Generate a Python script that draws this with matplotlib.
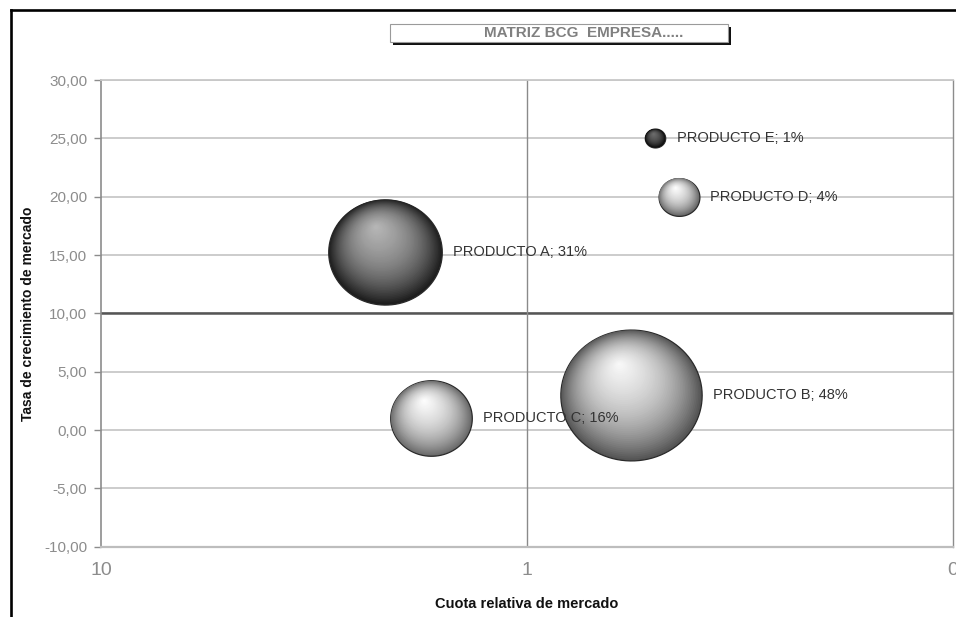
import numpy as np
import matplotlib
matplotlib.use("Agg")
import matplotlib.pyplot as plt
from matplotlib.path import Path
from matplotlib.markers import MarkerStyle
from matplotlib.transforms import offset_copy
from matplotlib.ticker import FuncFormatter, FixedLocator, NullLocator
from matplotlib.patches import Rectangle
from matplotlib.lines import Line2D
from matplotlib.colors import to_rgb

plt.rcParams['font.family'] = ['Liberation Sans', 'DejaVu Sans']

# --- data -------------------------------------------------------------
products = ["PRODUCTO A", "PRODUCTO B", "PRODUCTO C", "PRODUCTO D", "PRODUCTO E"]
cuota = [2.15, 0.57, 1.68, 0.44, 0.50]          # relative market share
crecimiento = [15.3, 3.0, 1.0, 20.0, 25.0]      # market growth rate
participacion = [31, 48, 16, 4, 1]              # share of sales (%)

x_ticks = [10, 1, 0.1]
y_ticks = [-10, -5, 0, 5, 10, 15, 20, 25, 30]

# sphere shading: (rim colour, highlight colour)
shades = {
    "PRODUCTO A": ("#1e1e1e", "#b8b8b8"),
    "PRODUCTO B": ("#555555", "#fafafa"),
    "PRODUCTO C": ("#6a6a6a", "#ffffff"),
    "PRODUCTO D": ("#6a6a6a", "#ffffff"),
    "PRODUCTO E": ("#0a0a0a", "#6e6e6e"),
}

# --- figure -----------------------------------------------------------
W, H, DPI = 956, 617, 100
fig = plt.figure(figsize=(W / DPI, H / DPI), dpi=DPI)
fig.patch.set_facecolor("white")

l, r, b, t = 101, 953, 546.7, 80
ax = fig.add_axes([l / W, 1 - b / H, (r - l) / W, (b - t) / H])
ax.set_xscale("log")
ax.set_xlim(10, 0.1)
ax.set_ylim(-10, 30)

ax.xaxis.set_major_locator(FixedLocator(x_ticks))
ax.xaxis.set_minor_locator(NullLocator())
ax.xaxis.set_major_formatter(FuncFormatter(lambda v, p: f"{v:.0f}"))
ax.yaxis.set_major_locator(FixedLocator(y_ticks))
ax.yaxis.set_major_formatter(FuncFormatter(lambda v, p: f"{v:.2f}".replace(".", ",")))

ax.tick_params(axis="x", length=0, pad=11, labelsize=14, labelcolor="#8c8c8c")
ax.tick_params(axis="y", length=5, width=1, color="#8c8c8c", pad=5,
               labelsize=11, labelcolor="#8c8c8c", direction="out")

ax.grid(axis="y", color="#c8c8c8", lw=1.3, zorder=0)
ax.set_axisbelow(True)
for side, col, lw in [("left", "#8c8c8c", 1.2), ("bottom", "#bdbdbd", 1.6),
                      ("right", "#8c8c8c", 1.0), ("top", "#c8c8c8", 1.3)]:
    ax.spines[side].set_color(col)
    ax.spines[side].set_linewidth(lw)

# quadrant dividers
ax.axhline(10, color="#555555", lw=1.8, zorder=1)
ax.axvline(1, color="#8a8a8a", lw=1.0, zorder=1)

# slightly wide ellipse marker
theta = np.linspace(0, 2 * np.pi, 100)
ell = Path(np.column_stack([1.08 * np.cos(theta), np.sin(theta)]), closed=True)
marker = MarkerStyle(ell)

PX2PT = 72 / DPI
size_k = 10.2  # horizontal radius in px per sqrt(%)
n_layers = 50

for name, xv, yv, pv in zip(products, cuota, crecimiento, participacion):
    rx_pt = size_k * np.sqrt(pv) * PX2PT
    ry_pt = rx_pt / 1.08
    rim, hi = (np.array(to_rgb(c)) for c in shades[name])
    hx, hy = -0.17 * rx_pt, 0.48 * ry_pt
    for k in range(n_layers):
        tt = k / n_layers
        f = 0.55 * (1 - (1 - tt) ** 3) + 0.45 * tt ** 1.2
        col = np.clip(rim + (hi - rim) * f, 0, 1)
        rad = rx_pt * (1 - tt)
        tr = offset_copy(ax.transData, fig=fig, x=hx * tt, y=hy * tt, units="points")
        kw = dict(edgecolor="#2a2a2a", linewidths=0.9) if k == 0 else dict(edgecolor="none")
        ax.scatter([xv], [yv], s=(2 * rad) ** 2, marker=marker, color=[col],
                   transform=tr, zorder=3, **kw)
    ax.annotate(f"{name}; {pv}%", (xv, yv), xytext=(rx_pt + 8, 0),
                textcoords="offset points", ha="left", va="center",
                fontsize=10.5, color="#333333", zorder=5)

ax.set_xlabel("Cuota relativa de mercado", fontsize=10.5, fontweight="bold",
              color="#111111")
ax.xaxis.set_label_coords(0.5, -0.123)
ax.xaxis.label.set_va("center")
ax.set_ylabel("Tasa de crecimiento de mercado", fontsize=10, fontweight="bold",
              color="#111111")
ax.yaxis.set_label_coords(-0.0857, 0.5)
ax.yaxis.label.set_va("center")

# title box with drop shadow
bx0, bx1, by0, by1 = 390, 728, 24, 42
sh = 3
fig.add_artist(Rectangle(((bx0 + sh) / W, 1 - (by1 + sh) / H), (bx1 - bx0) / W,
                         (by1 - by0) / H, transform=fig.transFigure,
                         facecolor="#111111", edgecolor="none", zorder=1))
fig.add_artist(Rectangle((bx0 / W, 1 - by1 / H), (bx1 - bx0) / W, (by1 - by0) / H,
                         transform=fig.transFigure, facecolor="white",
                         edgecolor="#9a9a9a", lw=0.8, zorder=2))
fig.text(584 / W, 1 - 33 / H, "MATRIZ BCG  EMPRESA.....", ha="center", va="center",
         fontsize=11, fontweight="bold", color="#808080", zorder=3)

# outer frame (left and top edges)
fig.add_artist(Line2D([11 / W, 11 / W], [0, 1 - 10 / H], transform=fig.transFigure,
                      color="black", lw=1.9))
fig.add_artist(Line2D([11 / W, 1], [1 - 10 / H, 1 - 10 / H], transform=fig.transFigure,
                      color="black", lw=1.9))

fig.savefig("out.png", dpi=DPI)
